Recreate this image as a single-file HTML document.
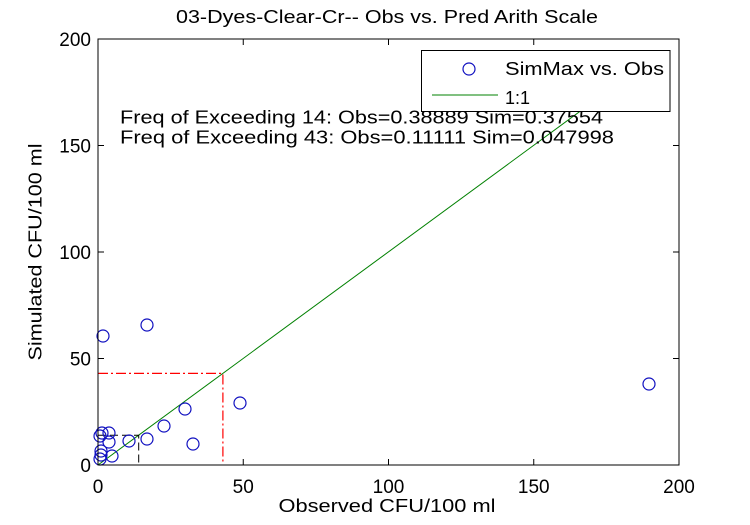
<!DOCTYPE html>
<html>
<head>
<meta charset="utf-8">
<style>
html,body{margin:0;padding:0;background:#fff;}
svg{display:block;}
text{font-family:"Liberation Sans",Arial,sans-serif;fill:#000;}
</style>
</head>
<body>
<svg width="750" height="525" viewBox="0 0 750 525" xmlns="http://www.w3.org/2000/svg">
<rect x="0" y="0" width="750" height="525" fill="#fff"/>
<!-- title -->
<text x="387" y="23" font-size="18" text-anchor="middle" textLength="422" lengthAdjust="spacingAndGlyphs">03-Dyes-Clear-Cr-- Obs vs. Pred Arith Scale</text>

<!-- 1:1 line -->
<line x1="98" y1="465" x2="650" y2="60" stroke="#008000" stroke-width="1"/>

<!-- red dash-dot -->
<polyline points="98,373.4 222.9,373.4 222.9,465" fill="none" stroke="#ff0000" stroke-width="1.2" stroke-dasharray="10,3,2,3"/>
<!-- black dashed -->
<polyline points="98,435.2 138.7,435.2 138.7,465" fill="none" stroke="#000" stroke-width="1" stroke-dasharray="8,4"/>

<!-- markers -->
<g fill="none" stroke="#1010c0" stroke-width="1.2">
<circle cx="100" cy="436" r="6"/>
<circle cx="102" cy="433" r="6"/>
<circle cx="109" cy="433" r="6"/>
<circle cx="109" cy="442" r="6"/>
<circle cx="101" cy="451" r="6"/>
<circle cx="101" cy="455" r="6"/>
<circle cx="100" cy="459" r="6"/>
<circle cx="112" cy="456" r="6"/>
<circle cx="129" cy="441" r="6"/>
<circle cx="147" cy="439" r="6"/>
<circle cx="164" cy="426" r="6"/>
<circle cx="185" cy="409" r="6"/>
<circle cx="193" cy="444" r="6"/>
<circle cx="240" cy="403" r="6"/>
<circle cx="103" cy="336" r="6"/>
<circle cx="147" cy="325" r="6"/>
<circle cx="649" cy="384" r="6"/>
</g>

<!-- annotation text -->
<text x="120" y="123.5" font-size="18" textLength="483" lengthAdjust="spacingAndGlyphs">Freq of Exceeding 14: Obs=0.38889 Sim=0.37554</text>
<text x="120" y="143.5" font-size="18" textLength="494" lengthAdjust="spacingAndGlyphs">Freq of Exceeding 43: Obs=0.11111 Sim=0.047998</text>

<!-- axes box -->
<rect x="98" y="39" width="581" height="426" fill="none" stroke="#000" stroke-width="1"/>

<!-- ticks -->
<g stroke="#000" stroke-width="1">
<line x1="243.25" y1="465" x2="243.25" y2="459"/>
<line x1="388.5" y1="465" x2="388.5" y2="459"/>
<line x1="533.75" y1="465" x2="533.75" y2="459"/>
<line x1="243.25" y1="39" x2="243.25" y2="45"/>
<line x1="388.5" y1="39" x2="388.5" y2="45"/>
<line x1="533.75" y1="39" x2="533.75" y2="45"/>
<line x1="98" y1="358.5" x2="104" y2="358.5"/>
<line x1="98" y1="252" x2="104" y2="252"/>
<line x1="98" y1="145.5" x2="104" y2="145.5"/>
<line x1="679" y1="358.5" x2="673" y2="358.5"/>
<line x1="679" y1="252" x2="673" y2="252"/>
<line x1="679" y1="145.5" x2="673" y2="145.5"/>
</g>

<!-- x tick labels -->
<g font-size="19" text-anchor="middle">
<text x="98" y="493">0</text>
<text x="243.25" y="493">50</text>
<text x="388.5" y="493">100</text>
<text x="533.75" y="493">150</text>
<text x="679" y="493">200</text>
</g>
<!-- y tick labels -->
<g font-size="19" text-anchor="end">
<text x="91" y="472">0</text>
<text x="91" y="365.5">50</text>
<text x="91" y="259">100</text>
<text x="91" y="152.5">150</text>
<text x="91" y="46">200</text>
</g>

<!-- axis labels -->
<text x="387" y="512" font-size="18" text-anchor="middle" textLength="217" lengthAdjust="spacingAndGlyphs">Observed CFU/100 ml</text>
<text transform="translate(41.5,252) rotate(-90)" x="0" y="0" font-size="18" text-anchor="middle" textLength="217" lengthAdjust="spacingAndGlyphs">Simulated CFU/100 ml</text>

<!-- legend -->
<rect x="421.5" y="50.5" width="248.5" height="61" fill="#fff" stroke="#000" stroke-width="1"/>
<circle cx="469" cy="69" r="6" fill="none" stroke="#1010c0" stroke-width="1.2"/>
<text x="505" y="75" font-size="18" textLength="159" lengthAdjust="spacingAndGlyphs">SimMax vs. Obs</text>
<line x1="432" y1="95" x2="498" y2="95" stroke="#008000" stroke-width="1"/>
<text x="505" y="104" font-size="18">1:1</text>
</svg>
</body>
</html>
